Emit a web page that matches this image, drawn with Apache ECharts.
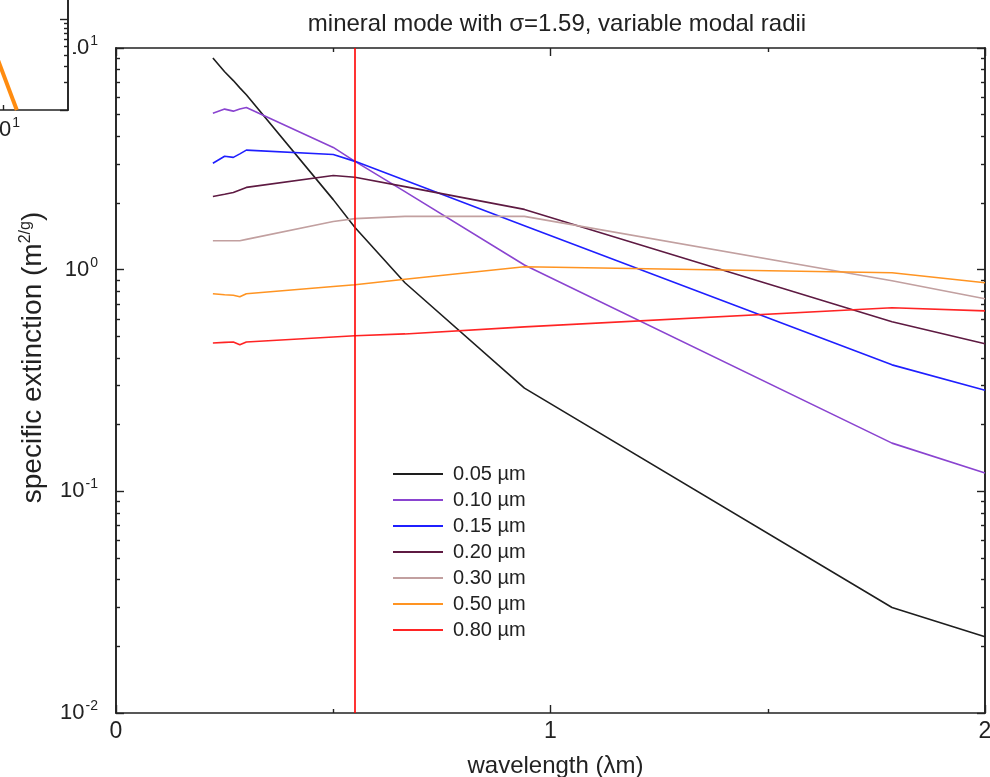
<!DOCTYPE html>
<html>
<head>
<meta charset="utf-8">
<script src="https://cdn.jsdelivr.net/npm/echarts@6/dist/echarts.min.js"></script>
<style>
  html, body { margin: 0; padding: 0; background: #ffffff; }
  #chart { width: 990px; height: 777px; }
</style>
</head>
<body>
<div id="chart"></div>
<script>
// Wavelengths (µm) at which the extinction curves are sampled
const wavelengths = [0.223, 0.25, 0.27, 0.285, 0.30, 0.5, 0.55, 0.665, 0.94, 1.786, 2.0];

// Specific extinction (m²/g) for each modal radius
const ext005 = [9.01, 7.81, 7.13, 6.61, 6.15, 2.07, 1.55, 0.873, 0.292, 0.0299, 0.0221];
const ext010 = [5.08, 5.30, 5.19, 5.31, 5.39, 3.56, 3.08, 2.25, 1.05, 0.165, 0.121];
const ext015 = [3.02, 3.25, 3.21, 3.33, 3.46, 3.31, 3.08, 2.53, 1.58, 0.372, 0.286];
const ext020 = [2.14, 2.19, 2.23, 2.29, 2.35, 2.66, 2.61, 2.37, 1.87, 0.582, 0.463];
const ext030 = [1.35, 1.35, 1.35, 1.35, 1.37, 1.65, 1.70, 1.74, 1.74, 0.892, 0.739];
const ext050 = [0.779, 0.771, 0.767, 0.755, 0.779, 0.840, 0.855, 0.905, 1.03, 0.969, 0.873];
const ext080 = [0.467, 0.470, 0.472, 0.458, 0.472, 0.497, 0.503, 0.513, 0.552, 0.673, 0.652];

const seriesNames = ['0.05 µm', '0.10 µm', '0.15 µm', '0.20 µm', '0.30 µm', '0.50 µm', '0.80 µm'];
const seriesValues = [ext005, ext010, ext015, ext020, ext030, ext050, ext080];
const seriesColors = ['#1e1e1e', '#8a44d0', '#1f1fff', '#5e1a42', '#c2a0a0', '#ff9422', '#ff2424'];

// Reference wavelength marked with a vertical line
const markerWavelength = [0.55];

// Decade tick values of the log axis and its minor ticks
const yMajorTicks = [0.01, 0.1, 1, 10];
const yMinorTicks = [0.02, 0.03, 0.04, 0.05, 0.06, 0.07, 0.08, 0.09,
                     0.2, 0.3, 0.4, 0.5, 0.6, 0.7, 0.8, 0.9,
                     2, 3, 4, 5, 6, 7, 8, 9];

// Neighbouring panel, partly visible at the top-left corner
const insetX = [7.5, 11.3];
const insetY = [20.8, 1.0];
const insetXTicks = [10];
const insetMinorTicks = [2, 3, 4, 5, 6, 7, 8, 9, 20, 30, 40, 50, 60, 70, 80, 90];

const FONT = '"Liberation Sans", Arial, sans-serif';
const INK = '#222222';

const powRich = {
  b: { fontSize: 22, color: INK, fontFamily: FONT },
  e: { fontSize: 14, color: INK, fontFamily: FONT, padding: [0, 0, 14, 1] }
};
const powFormatter = function (v) {
  const e = Math.round(Math.log10(v));
  return '{b|10}{e|' + e + '}';
};

function frameAxis(extra) {
  return Object.assign({
    axisLine: { show: true, onZero: false, lineStyle: { color: INK, width: 1.6 } },
    splitLine: { show: false },
    axisLabel: { show: false }
  }, extra);
}

const chart = echarts.init(document.getElementById('chart'), null, { renderer: 'canvas' });

const series = seriesNames.map(function (name, i) {
  const s = {
    name: name,
    type: 'line',
    xAxisIndex: 0,
    yAxisIndex: 0,
    symbol: 'none',
    smooth: false,
    lineStyle: { color: seriesColors[i], width: 1.6 },
    itemStyle: { color: seriesColors[i] },
    data: wavelengths.map(function (w, k) { return [w, seriesValues[i][k]]; }),
    z: 3
  };
  if (i === seriesNames.length - 1) {
    s.markLine = {
      silent: true,
      symbol: ['none', 'none'],
      label: { show: false },
      lineStyle: { color: '#ff0000', width: 1.6, type: 'solid' },
      data: markerWavelength.map(function (w) { return { xAxis: w }; })
    };
  }
  return s;
});

series.push({
  name: 'inset',
  type: 'line',
  xAxisIndex: 2,
  yAxisIndex: 4,
  symbol: 'none',
  lineStyle: { color: '#ff8c10', width: 4 },
  data: insetX.map(function (x, k) { return [x, insetY[k]]; }),
  z: 12
});

const option = {
  animation: false,
  backgroundColor: '#ffffff',
  textStyle: { fontFamily: FONT },
  title: {
    text: 'mineral mode with σ=1.59, variable modal radii',
    left: 552,
    textAlign: 'center',
    top: 7,
    textStyle: { fontSize: 24, fontWeight: 'normal', color: INK, fontFamily: FONT }
  },
  legend: {
    data: seriesNames.map(function (n) { return { name: n, icon: 'rect' }; }),
    orient: 'vertical',
    left: 393,
    top: 464,
    padding: 0,
    itemWidth: 50,
    itemHeight: 2,
    itemGap: 6,
    textStyle: { fontSize: 20, color: INK, fontFamily: FONT, padding: [0, 0, 0, 5] }
  },
  // white backing of the neighbouring panel, drawn over the main axis labels
  graphic: [{
    type: 'rect',
    left: 0,
    top: 0,
    z: 9,
    silent: true,
    shape: { width: 73, height: 110 },
    style: { fill: '#ffffff' }
  }],
  grid: [
    { left: 116, right: 5, top: 48, bottom: 64, containLabel: false, outerBoundsMode: 'none' },
    { left: -250, top: -72, width: 318, height: 182, show: true, containLabel: false,
      outerBoundsMode: 'none', backgroundColor: '#ffffff', borderWidth: 0, z: 10 }
  ],
  xAxis: [
    frameAxis({
      gridIndex: 0, type: 'value', position: 'bottom', min: 0, max: 2, interval: 1,
      axisTick: { show: true, inside: true, length: 8, lineStyle: { color: INK, width: 1.4 } },
      minorTick: { show: true, splitNumber: 2, length: 4, lineStyle: { color: INK, width: 1.4 } },
      axisLabel: { show: true, fontSize: 23, color: INK, margin: 7, fontFamily: FONT },
      name: 'wavelength (λm)',
      nameLocation: 'middle',
      nameGap: 41,
      nameTextStyle: { fontSize: 24, color: INK, fontFamily: FONT, padding: [0, 0, 0, 10] }
    }),
    frameAxis({
      gridIndex: 0, type: 'value', position: 'top', min: 0, max: 2, interval: 1,
      axisTick: { show: true, inside: true, length: 8, lineStyle: { color: INK, width: 1.4 } },
      minorTick: { show: true, splitNumber: 2, length: 4, lineStyle: { color: INK, width: 1.4 } }
    }),
    frameAxis({
      gridIndex: 1, type: 'log', logBase: 10, position: 'bottom', min: 1, max: 18, z: 11,
      axisTick: { show: true, inside: true, length: 5, customValues: insetXTicks,
                  lineStyle: { color: INK, width: 1.4 } },
      axisLabel: { show: true, formatter: powFormatter, rich: powRich, margin: 6,
                   customValues: insetXTicks }
    })
  ],
  yAxis: [
    frameAxis({
      gridIndex: 0, type: 'log', logBase: 10, position: 'left', min: 0.01, max: 10,
      axisTick: { show: true, inside: true, length: 8, customValues: yMajorTicks,
                  lineStyle: { color: INK, width: 1.4 } },
      axisLabel: { show: true, formatter: powFormatter, rich: powRich, margin: 18,
                   customValues: yMajorTicks },
      name: '{n|specific extinction (m}{s|2/g}{n|)}',
      nameLocation: 'middle',
      nameRotate: 90,
      nameGap: 68,
      nameTextStyle: {
        padding: [0, 0, 0, 46],
        rich: {
          n: { fontSize: 28, color: INK, fontFamily: FONT },
          s: { fontSize: 16, color: INK, fontFamily: FONT, padding: [0, 0, 14, 0] }
        }
      }
    }),
    frameAxis({
      gridIndex: 0, type: 'log', logBase: 10, position: 'left', min: 0.01, max: 10,
      axisTick: { show: true, inside: true, length: 4, customValues: yMinorTicks,
                  lineStyle: { color: INK, width: 1.4 } }
    }),
    frameAxis({
      gridIndex: 0, type: 'log', logBase: 10, position: 'right', min: 0.01, max: 10,
      axisTick: { show: true, inside: true, length: 8, customValues: yMajorTicks,
                  lineStyle: { color: INK, width: 1.4 } }
    }),
    frameAxis({
      gridIndex: 0, type: 'log', logBase: 10, position: 'right', min: 0.01, max: 10,
      axisTick: { show: true, inside: true, length: 4, customValues: yMinorTicks,
                  lineStyle: { color: INK, width: 1.4 } }
    }),
    frameAxis({
      gridIndex: 1, type: 'log', logBase: 10, position: 'right', min: 1, max: 100, z: 11,
      axisTick: { show: true, inside: true, length: 8, customValues: [1, 10, 100],
                  lineStyle: { color: INK, width: 1.4 } }
    }),
    frameAxis({
      gridIndex: 1, type: 'log', logBase: 10, position: 'right', min: 1, max: 100, z: 11,
      axisTick: { show: true, inside: true, length: 4, customValues: insetMinorTicks,
                  lineStyle: { color: INK, width: 1.4 } }
    })
  ],
  series: series
};

chart.setOption(option);
</script>
</body>
</html>
